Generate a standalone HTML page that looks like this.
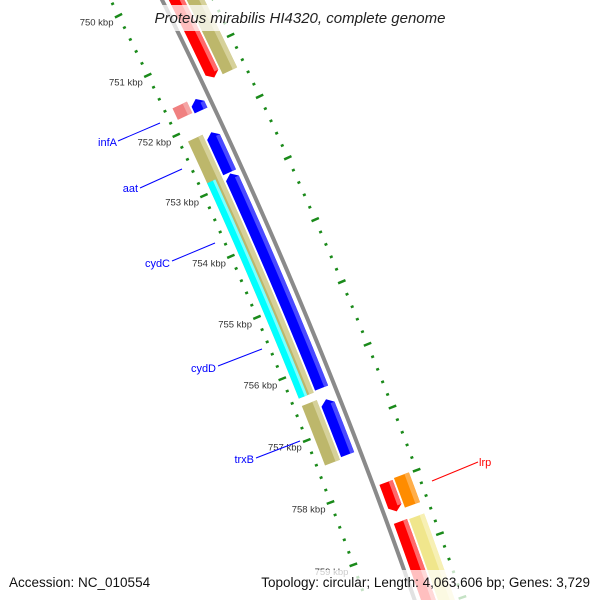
<!DOCTYPE html>
<html><head><meta charset="utf-8"><style>
html,body{margin:0;padding:0;background:#fff;width:600px;height:600px;overflow:hidden}
svg{display:block;font-family:"Liberation Sans",sans-serif;overflow:hidden}
</style></head><body>
<svg id="chart" width="600" height="600" viewBox="0 0 600 600" xmlns="http://www.w3.org/2000/svg">
<defs><clipPath id="frame"><rect x="0" y="0" width="600" height="600"/></clipPath></defs>
<g clip-path="url(#frame)">
<g id="ticks"></g>
<path id="backbone" fill="none" stroke="#8a8a8a" stroke-width="4"/>
<g id="features"></g>
<g id="labels">
<line x1="118" y1="141" x2="160" y2="123" stroke="#0000ff" stroke-width="1"/>
<text x="117" y="146" text-anchor="end" font-size="11" fill="#0000ff">infA</text>
<line x1="140" y1="188" x2="182" y2="169" stroke="#0000ff" stroke-width="1"/>
<text x="138" y="192" text-anchor="end" font-size="11" fill="#0000ff">aat</text>
<line x1="172" y1="261" x2="215" y2="243" stroke="#0000ff" stroke-width="1"/>
<text x="170" y="267" text-anchor="end" font-size="11" fill="#0000ff">cydC</text>
<line x1="218" y1="366" x2="262" y2="349" stroke="#0000ff" stroke-width="1"/>
<text x="216" y="372" text-anchor="end" font-size="11" fill="#0000ff">cydD</text>
<line x1="256" y1="458" x2="300" y2="441" stroke="#0000ff" stroke-width="1"/>
<text x="254" y="463" text-anchor="end" font-size="11" fill="#0000ff">trxB</text>
<line x1="432" y1="481" x2="478" y2="462" stroke="#ff0000" stroke-width="1"/>
<text x="479" y="466" font-size="11" fill="#ff0000">lrp</text>
</g>
<rect x="145" y="5" width="310" height="26" fill="#fff" opacity="0.75"/>
<text x="300" y="23" text-anchor="middle" font-size="15" font-style="italic" fill="#222">Proteus mirabilis HI4320, complete genome</text>
<rect x="0" y="570" width="600" height="30" fill="#fff" opacity="0.75"/>
<text x="9" y="587" font-size="13.5" fill="#111">Accession: NC_010554</text>
<text x="590" y="587" text-anchor="end" font-size="13.5" fill="#111">Topology: circular; Length: 4,063,606 bp; Genes: 3,729</text>
</g>
</svg>
<script>
var featNames  = ['top-red','top-tan','pink','small-blue','tan-cyd','cyan-cyd','blue-1','blue-2','blue-3','tan-trxB','red-small','orange-lrp','red-large','yellow-large'];
var featStart  = [748.0, 748.0, 751.61, 751.63, 752.16, 752.85, 752.18, 752.86, 756.53, 756.49, 758.01, 757.99, 758.63, 758.64];
var featEnd    = [751.46, 751.47, 751.80, 751.82, 756.37, 756.37, 752.84, 756.35, 757.42, 757.45, 758.47, 758.46, 761.0, 761.0];
var featTrack  = [1, 2, -2, -1, -2, -3, -1, -1, -1, -2, 1, 2, 1, 2];
var featStrand = [1, 0, 0, -1, 0, 0, -1, -1, -1, 0, 1, 0, 1, 0];
var featColor  = ['#ff0000','#bdb76b','#f08080','#0000ff','#bdb76b','#00ffff','#0000ff','#0000ff','#0000ff','#bdb76b','#ff0000','#ff8c00','#ff0000','#f0e68c'];
var featLight  = ['#ff6a6a','#d6d19a','#f5a5a5','#4a4aff','#d6d19a','#7fffff','#4a4aff','#4a4aff','#4a4aff','#d6d19a','#ff6a6a','#ffae4a','#ff6a6a','#f7f0b4'];
var tickMajors = [749,750,751,752,753,754,755,756,757,758,759,760];
var tickLabels = ['749 kbp','750 kbp','751 kbp','752 kbp','753 kbp','754 kbp','755 kbp','756 kbp','757 kbp','758 kbp','759 kbp','760 kbp'];

var CX=-4435, CY=2288, R0=5135, A0=-26.52, DEG=0.7475;
function P(k,r){var t=(A0+(k-750)*DEG)*Math.PI/180;return [CX+r*Math.cos(t),CY+r*Math.sin(t)];}
function arc(k1,k2,r){var n=Math.max(2,Math.ceil(Math.abs(k2-k1)*6)),pts=[];for(var i=0;i<=n;i++){pts.push(P(k1+(k2-k1)*i/n,r));}return pts;}
function trackR(tr){
  if(tr===1)return [R0+6,R0+20];
  if(tr===2)return [R0+22,R0+38];
  if(tr===-1)return [R0-20,R0-6];
  if(tr===-2)return [R0-38,R0-22];
  return [R0-38,R0-29];
}
function ptsStr(a){return a.map(function(p){return p[0].toFixed(2)+','+p[1].toFixed(2);}).join(' ');}
var NS='http://www.w3.org/2000/svg';
var bb=arc(747.5,760.5,R0);
document.getElementById('backbone').setAttribute('d','M'+bb.map(function(p){return p[0].toFixed(2)+' '+p[1].toFixed(2);}).join(' L'));
var tg=document.getElementById('ticks');
function tickLine(k,r1,r2,w){var a=P(k,r1),b=P(k,r2);var l=document.createElementNS(NS,'line');
l.setAttribute('x1',a[0]);l.setAttribute('y1',a[1]);l.setAttribute('x2',b[0]);l.setAttribute('y2',b[1]);
l.setAttribute('stroke','#1a8a1a');l.setAttribute('stroke-width',w);


tg.appendChild(l);}
for(var m=0;m<tickMajors.length;m++){
  var k=tickMajors[m];
  tickLine(k,R0-50,R0-42,2.5);
  tickLine(k,R0+42,R0+50,2.5);
  if(k<760){for(var j=1;j<5;j++){tickLine(k+j*0.2,R0-47.5,R0-44.5,2.5);tickLine(k+j*0.2,R0+44.5,R0+47.5,2.5);}}
  var lp=P(k,R0-46);
  var tx=document.createElementNS(NS,'text');
  tx.setAttribute('x',(lp[0]-5).toFixed(1));tx.setAttribute('y',(lp[1]+10).toFixed(1));
  tx.setAttribute('text-anchor','end');tx.setAttribute('font-size','9.5');tx.setAttribute('fill','#333');
  
  
  tx.textContent=tickLabels[m];tg.appendChild(tx);
}
var fg=document.getElementById('features');
var AL=0.08;
function featPoly(k1,k2,r1,r2,strand){
  var rm=(r1+r2)/2,pts;
  if(strand===1){pts=arc(k1,k2-AL,r2).concat([P(k2,rm)]).concat(arc(k2-AL,k1,r1));}
  else if(strand===-1){pts=[P(k1,rm)].concat(arc(k1+AL,k2,r2)).concat(arc(k2,k1+AL,r1));}
  else{pts=arc(k1,k2,r2).concat(arc(k2,k1,r1));}
  return pts;
}
for(var i=0;i<featStart.length;i++){
  var rr=trackR(featTrack[i]),r1=rr[0],r2=rr[1];
  var g=document.createElementNS(NS,'g');
  
  
  var p=document.createElementNS(NS,'polygon');
  p.setAttribute('points',ptsStr(featPoly(featStart[i],featEnd[i],r1,r2,featStrand[i])));
  p.setAttribute('fill',featColor[i]);
  
  
  g.appendChild(p);
  var s1=featStrand[i]===-1?featStart[i]+AL:featStart[i];
  var s2=featStrand[i]===1?featEnd[i]-AL:featEnd[i];
  var hr1=r2-(r2-r1)*0.3;
  var h=document.createElementNS(NS,'polygon');
  h.setAttribute('points',ptsStr(arc(s1,s2,r2).concat(arc(s2,s1,hr1))));
  h.setAttribute('fill',featLight[i]);
  
  
  g.appendChild(h);
  fg.appendChild(g);
}
</script>
</body></html>
